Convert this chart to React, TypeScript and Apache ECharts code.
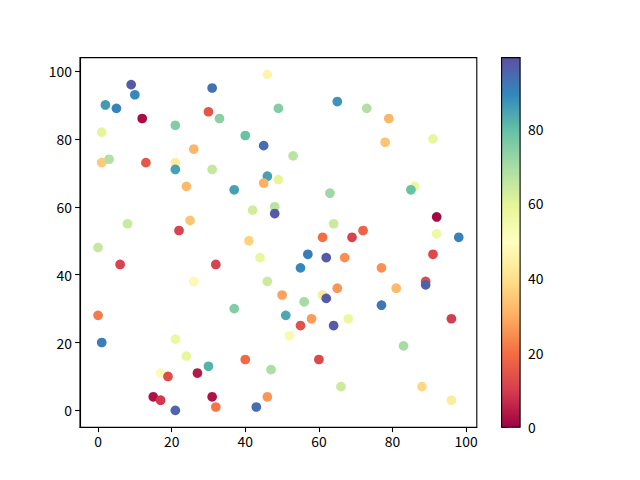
import React, { useEffect, useRef } from "react";
import * as echarts from "echarts";

const xs = [9, 10, 2, 5, 12, 21, 31, 30, 1, 26, 1, 3, 13, 21, 21, 31, 24, 46, 65, 49, 33, 40, 45, 53, 46, 49, 45, 37, 73, 79, 78, 91, 86, 85, 8, 25, 22, 0, 6, 32, 26, 63, 42, 48, 48, 64, 41, 61, 44, 57, 62, 67, 55, 46, 50, 56, 61, 62, 65, 37, 69, 72, 92, 92, 98, 91, 77, 81, 89, 89, 77, 0, 1, 21, 24, 30, 17, 19, 27, 15, 17, 21, 31, 32, 51, 58, 55, 52, 64, 68, 40, 47, 60, 46, 43, 96, 83, 66, 88, 96];
const ys = [96, 93, 90, 89, 86, 84, 95, 88, 82, 77, 73, 74, 73, 73, 71, 71, 66, 99, 91, 89, 86, 81, 78, 75, 69, 68, 67, 65, 89, 86, 79, 80, 66, 65, 55, 56, 53, 48, 43, 43, 38, 64, 59, 60, 58, 55, 50, 51, 45, 46, 45, 45, 42, 38, 34, 32, 34, 33, 36, 30, 51, 53, 57, 52, 51, 46, 42, 36, 38, 37, 31, 28, 20, 21, 16, 13, 11, 10, 11, 4, 3, 0, 4, 1, 28, 27, 25, 22, 25, 27, 15, 12, 15, 4, 1, 27, 19, 7, 7, 3];
const cs = [97, 89, 86, 90, 2, 75, 93, 15, 59, 31, 35, 68, 15, 43, 85, 65, 32, 46, 87, 75, 74, 79, 94, 67, 85, 59, 30, 85, 68, 31, 34, 58, 57, 79, 64, 34, 11, 65, 11, 11, 47, 71, 63, 67, 97, 64, 37, 20, 58, 91, 97, 25, 89, 64, 28, 70, 43, 97, 26, 75, 11, 18, 1, 56, 90, 12, 25, 32, 13, 96, 92, 22, 91, 57, 58, 82, 48, 13, 4, 3, 9, 95, 3, 21, 84, 27, 14, 53, 97, 57, 19, 69, 12, 26, 94, 10, 70, 64, 38, 43];

const axisTicks = [0, 20, 40, 60, 80, 100];
const cbarTicks = [0, 20, 40, 60, 80];
const cMin = 0;
const cMax = 99;
const spectral = ["#9e0142", "#d53e4f", "#f46d43", "#fdae61", "#fee08b", "#ffffbf", "#e6f598", "#abdda4", "#66c2a5", "#3288bd", "#5e4fa2"];

const FONT = "'Noto Sans CJK SC', 'DejaVu Sans', sans-serif";

export default function App() {
  const ref = useRef<HTMLDivElement>(null);
  useEffect(() => {
    document.body.style.margin = "0";
    const chart = echarts.init(ref.current!, null, { renderer: "svg" });
    const data = xs.map((x, i) => [x, ys[i], cs[i]]);
    const stops = spectral.map((c, k) => ({ offset: 1 - k / (spectral.length - 1), color: c })).reverse();
    const label = { color: "#000", fontFamily: FONT, fontSize: 13.9 };
    chart.setOption({
      animation: false,
      backgroundColor: "#fff",
      grid: [
        { left: 80, top: 57.6, width: 396.8, height: 369.6, show: true, borderColor: "#000", borderWidth: 1.1, backgroundColor: "transparent" },
        { left: 501.6, top: 57.6, width: 18.5, height: 369.6, show: false },
      ],
      xAxis: [
        {
          type: "value", gridIndex: 0, min: -4.9, max: 102.9,
          splitLine: { show: false },
          axisLine: { show: true, onZero: false, lineStyle: { color: "#000", width: 1.1 } },
          axisTick: { show: true, inside: false, length: 4.9, lineStyle: { color: "#000", width: 1.1 }, customValues: axisTicks },
          axisLabel: { ...label, margin: 7, customValues: axisTicks },
        },
        { type: "value", gridIndex: 1, min: 0, max: 1, show: false },
      ],
      yAxis: [
        {
          type: "value", gridIndex: 0, min: -4.95, max: 103.95,
          splitLine: { show: false },
          axisLine: { show: true, onZero: false, lineStyle: { color: "#000", width: 1.1 } },
          axisTick: { show: true, inside: false, length: 4.9, lineStyle: { color: "#000", width: 1.1 }, customValues: axisTicks },
          axisLabel: { ...label, margin: 8, customValues: axisTicks },
        },
        {
          type: "value", gridIndex: 1, min: cMin, max: cMax, position: "right",
          splitLine: { show: false },
          axisLine: { show: false },
          axisTick: { show: true, inside: false, length: 4.9, lineStyle: { color: "#000", width: 1.1 }, customValues: cbarTicks },
          axisLabel: { ...label, margin: 8, customValues: cbarTicks },
        },
      ],
      visualMap: {
        show: false, type: "continuous", min: cMin, max: cMax, dimension: 2, seriesIndex: 0,
        inRange: { color: spectral },
      },
      graphic: [
        {
          type: "rect", z: 100,
          shape: { x: 501.6, y: 57.6, width: 18.5, height: 369.6 },
          style: { fill: new echarts.graphic.LinearGradient(0, 0, 0, 1, stops), stroke: "#000", lineWidth: 1.1 },
        },
      ],
      series: [
        {
          type: "scatter", xAxisIndex: 0, yAxisIndex: 0, data,
          symbol: "circle", symbolSize: 9.7,
          itemStyle: { opacity: 1 },
        },
      ],
    });
    return () => chart.dispose();
  }, []);
  return <div ref={ref} style={{ width: 640, height: 480 }} />;
}
